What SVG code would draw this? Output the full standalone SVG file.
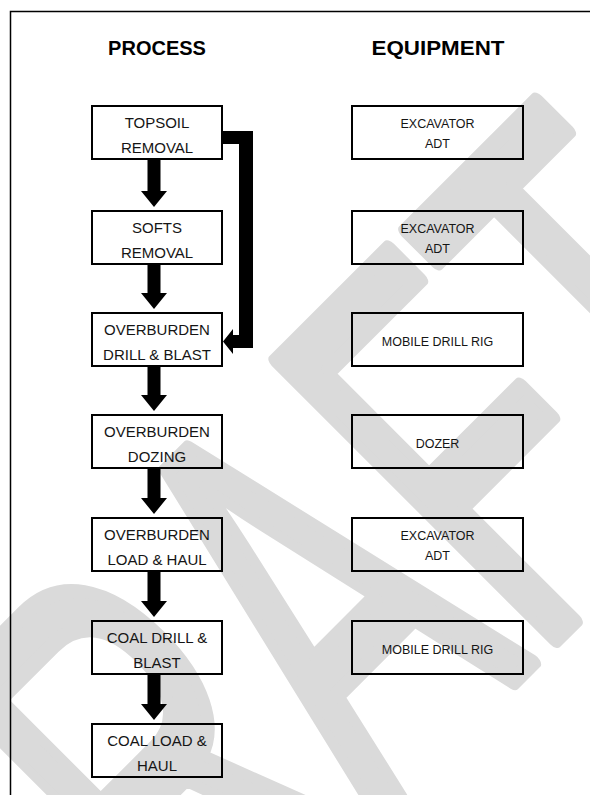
<svg xmlns="http://www.w3.org/2000/svg" width="590" height="795" viewBox="0 0 590 795">
<style>
.box{fill:none;stroke:#000;stroke-width:2}
.pt{font-family:"Liberation Sans",Arial,sans-serif;font-size:15px;fill:#151515;text-anchor:middle}
.et{font-family:"Liberation Sans",Arial,sans-serif;font-size:12.5px;fill:#151515;text-anchor:middle}
.hd{font-family:"Liberation Sans",Arial,sans-serif;font-size:20px;font-weight:bold;fill:#000;text-anchor:middle}
.arr{fill:#000}
.wm{font-family:"Liberation Sans",Arial,sans-serif;font-size:333px;fill:#dadada;stroke:#dadada;stroke-width:14;stroke-linejoin:round}
</style>
<rect width="590" height="795" fill="#fff"/>
<g id="watermark">
<text class="wm" vector-effect="non-scaling-stroke" transform="translate(37.5,1157.5) rotate(-45) scale(1,1.72)">DRAFT</text>
</g>
<g id="frame" stroke="#000" stroke-width="1.5" fill="none">
<path d="M10.5 795 V11.5 H590"/>
</g>
<g id="headings">
<text class="hd" x="157" y="55">PROCESS</text>
<text class="hd" x="438" y="55" textLength="133" lengthAdjust="spacingAndGlyphs">EQUIPMENT</text>
</g>
<g id="p1"><rect class="box" x="92" y="106" width="130" height="53"/><text class="pt" x="157" y="128">TOPSOIL</text><text class="pt" x="157" y="153">REMOVAL</text></g>
<g id="p2"><rect class="box" x="92" y="211" width="130" height="53"/><text class="pt" x="157" y="233">SOFTS</text><text class="pt" x="157" y="258">REMOVAL</text></g>
<g id="p3"><rect class="box" x="92" y="313" width="130" height="53"/><text class="pt" x="157" y="335">OVERBURDEN</text><text class="pt" x="157" y="360">DRILL &amp; BLAST</text></g>
<g id="p4"><rect class="box" x="92" y="415" width="130" height="53"/><text class="pt" x="157" y="437">OVERBURDEN</text><text class="pt" x="157" y="462">DOZING</text></g>
<g id="p5"><rect class="box" x="92" y="518" width="130" height="53"/><text class="pt" x="157" y="540">OVERBURDEN</text><text class="pt" x="157" y="565">LOAD &amp; HAUL</text></g>
<g id="p6"><rect class="box" x="92" y="621" width="130" height="53"/><text class="pt" x="157" y="643">COAL DRILL &amp;</text><text class="pt" x="157" y="668">BLAST</text></g>
<g id="p7"><rect class="box" x="92" y="724" width="130" height="53"/><text class="pt" x="157" y="746">COAL LOAD &amp;</text><text class="pt" x="157" y="771">HAUL</text></g>
<g id="e1"><rect class="box" x="352" y="106" width="171" height="53"/><text class="et" x="437.5" y="128">EXCAVATOR</text><text class="et" x="437.5" y="148">ADT</text></g>
<g id="e2"><rect class="box" x="352" y="211" width="171" height="53"/><text class="et" x="437.5" y="233">EXCAVATOR</text><text class="et" x="437.5" y="253">ADT</text></g>
<g id="e3"><rect class="box" x="352" y="313" width="171" height="53"/><text class="et" x="437.5" y="346">MOBILE DRILL RIG</text></g>
<g id="e4"><rect class="box" x="352" y="415" width="171" height="53"/><text class="et" x="437.5" y="448">DOZER</text></g>
<g id="e5"><rect class="box" x="352" y="518" width="171" height="53"/><text class="et" x="437.5" y="540">EXCAVATOR</text><text class="et" x="437.5" y="560">ADT</text></g>
<g id="e6"><rect class="box" x="352" y="621" width="171" height="53"/><text class="et" x="437.5" y="654">MOBILE DRILL RIG</text></g>
<g id="connectors" class="arr">
<polygon points="147.5,159 160.5,159 160.5,191 167,191 154,207 141,191 147.5,191"/>
<polygon points="147.5,264 160.5,264 160.5,293 167,293 154,309 141,293 147.5,293"/>
<polygon points="147.5,366 160.5,366 160.5,395 167,395 154,411 141,395 147.5,395"/>
<polygon points="147.5,468 160.5,468 160.5,498 167,498 154,514 141,498 147.5,498"/>
<polygon points="147.5,571 160.5,571 160.5,601 167,601 154,617 141,601 147.5,601"/>
<polygon points="147.5,674 160.5,674 160.5,704 167,704 154,720 141,704 147.5,704"/>
<polygon points="222,131 253,131 253,348 233,348 233,354 223,341.5 233,329 233,335 239,335 239,144 222,144"/>
</g>
</svg>
